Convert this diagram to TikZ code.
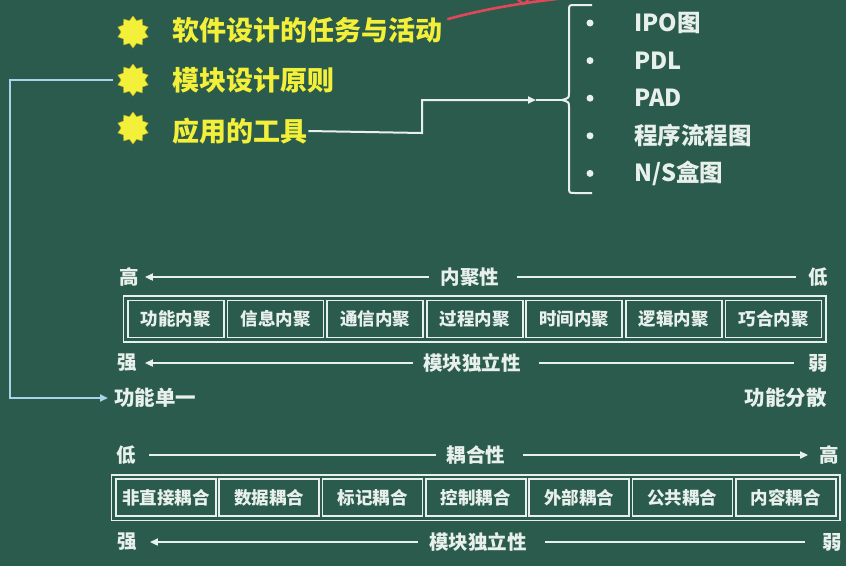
\documentclass[tikz,border=0pt]{standalone}
\usepackage{fontspec}
\setmainfont{Noto Sans CJK SC}
\usetikzlibrary{shapes.geometric,arrows.meta,fit}
\definecolor{board}{HTML}{2B5B4D}
\definecolor{chalk}{HTML}{E8F0EC}
\definecolor{hilite}{HTML}{F4F03A}
\definecolor{wire}{HTML}{A6D4EA}
\definecolor{marker}{HTML}{E0485A}
\begin{document}
\begin{tikzpicture}[x=1pt,y=-1pt,
  burst/.style={star, star points=10, star point ratio=1.35, fill=hilite, draw=hilite!70!black, line width=0.4pt, minimum size=32pt, inner sep=0pt},
  topic/.style={anchor=west, text=hilite, font=\bfseries\fontsize{27}{29}\selectfont, inner sep=1pt},
  item/.style={anchor=west, text=chalk, font=\bfseries\fontsize{23.5}{25}\selectfont, inner sep=1pt},
  dot/.style={circle, fill=chalk, minimum size=7pt, inner sep=0pt},
  lbl/.style={text=chalk, font=\bfseries\fontsize{19.5}{21}\selectfont, inner sep=1pt},
  side/.style={text=chalk, font=\bfseries\fontsize{20.5}{22}\selectfont, inner sep=1pt},
  cell/.style={draw=chalk, line width=1.8pt, text=chalk, font=\bfseries\fontsize{17.5}{19}\selectfont, minimum height=37pt, inner sep=0pt, anchor=west},
  frame/.style={draw=chalk, line width=1.8pt, inner sep=3.5pt},
  rule/.style={draw=chalk, line width=2.4pt},
  wireln/.style={draw=wire, line width=2pt},
  tip/.style={-{Triangle[length=8pt,width=7pt]}}
]
\fill[board] (0,0) rectangle (846,566);
\useasboundingbox (0,0) rectangle (846,566);

% red pen stroke near the top
\draw[marker, line width=2.6pt, line cap=round] (448,19) .. controls (485,9) and (525,2) .. (575,-3);
\draw[marker, line width=2pt, line cap=round] (518,0) -- (524,4) -- (530,-2);

% topics
\node[burst] (s1) at (133,32) {};
\node[burst] (s2) at (133,80) {};
\node[burst] (s3) at (133,128) {};
\node[topic] (task)  at (171,30) {软件设计的任务与活动};
\node[topic] (rules) at (171,80) {模块设计原则};
\node[topic] (tools) at (171,131) {应用的工具};

% tool list with brace
\coordinate (bt) at (562,100);
\coordinate (m) at (536,100);
\draw[rule, line width=2pt, line join=round] (592,5) -- (575,5) .. controls (569,5) .. (569,11) -- (569,93)
      .. controls (569,98) .. (bt) .. controls (569,102) .. (569,107)
      -- (569,187) .. controls (569,193) .. (575,193) -- (592,193);
\draw[rule, line width=2pt, tip] (tools.east) -- (422,133) |- (m);
\draw[rule, line width=2pt] (m) -- (bt);

\foreach \t [count=\i] in {IPO图, PDL, PAD, 程序流程图, N/S盒图} {
  \node[dot] (d\i) at (590,{23+37.6*(\i-1)}) {};
  \node[item] (it\i) at (633,{23+37.6*(\i-1)}) {\t};
}

% cohesion scale
\node[lbl] (hiA) at (129,277) {高};
\node[lbl] (coh) at (470,277) {内聚性};
\node[lbl] (loA) at (818,277) {低};
\draw[rule, tip, shorten <=11pt, shorten >=5pt] (coh.west) -- (hiA.east);
\draw[rule, shorten <=17pt, shorten >=11pt] (coh.east) -- (loA.west);

\foreach \t [count=\i] in {功能内聚, 信息内聚, 通信内聚, 过程内聚, 时间内聚, 逻辑内聚, 巧合内聚}
  \node[cell, minimum width=96pt] (c\i) at ({127+99.6*(\i-1)},319) {\t};
\node[frame, fit=(c1)(c7)] (cohrow) {};

\node[lbl] (stA) at (127,363) {强};
\node[lbl] (indA) at (472,363) {模块独立性};
\node[lbl] (wkA) at (818,363) {弱};
\draw[rule, tip, shorten <=9pt, shorten >=7pt] (indA.west) -- (stA.east);
\draw[rule, shorten <=17pt, shorten >=13pt] (indA.east) -- (wkA.west);

\node[side, anchor=west] (single) at (113,398) {功能单一};
\node[side, anchor=east] (spread) at (828,398) {功能分散};
\draw[wireln, tip] ([xshift=-8pt]s2.west) -- (10,80) |- ([xshift=-5pt]single.west);

% coupling scale
\node[lbl] (loB) at (126,455) {低};
\node[lbl] (cpl) at (476,455) {耦合性};
\node[lbl] (hiB) at (829,455) {高};
\draw[rule, shorten <=10pt, shorten >=12pt] (cpl.west) -- (loB.east);
\draw[rule, tip, shorten <=17pt, shorten >=10pt] (cpl.east) -- (hiB.west);

\foreach \t [count=\i] in {非直接耦合, 数据耦合, 标记耦合, 控制耦合, 外部耦合, 公共耦合, 内容耦合}
  \node[cell, minimum width=100pt] (k\i) at ({115+103.3*(\i-1)},497.5) {\t};
\node[frame, fit=(k1)(k7)] (cplrow) {};

\node[lbl] (stB) at (127,542) {强};
\node[lbl] (indB) at (478,542) {模块独立性};
\node[lbl] (wkB) at (832,542) {弱};
\draw[rule, tip, shorten <=10pt, shorten >=12pt] (indB.west) -- (stB.east);
\draw[rule, shorten <=17pt, shorten >=16pt] (indB.east) -- (wkB.west);
\end{tikzpicture}
\end{document}
